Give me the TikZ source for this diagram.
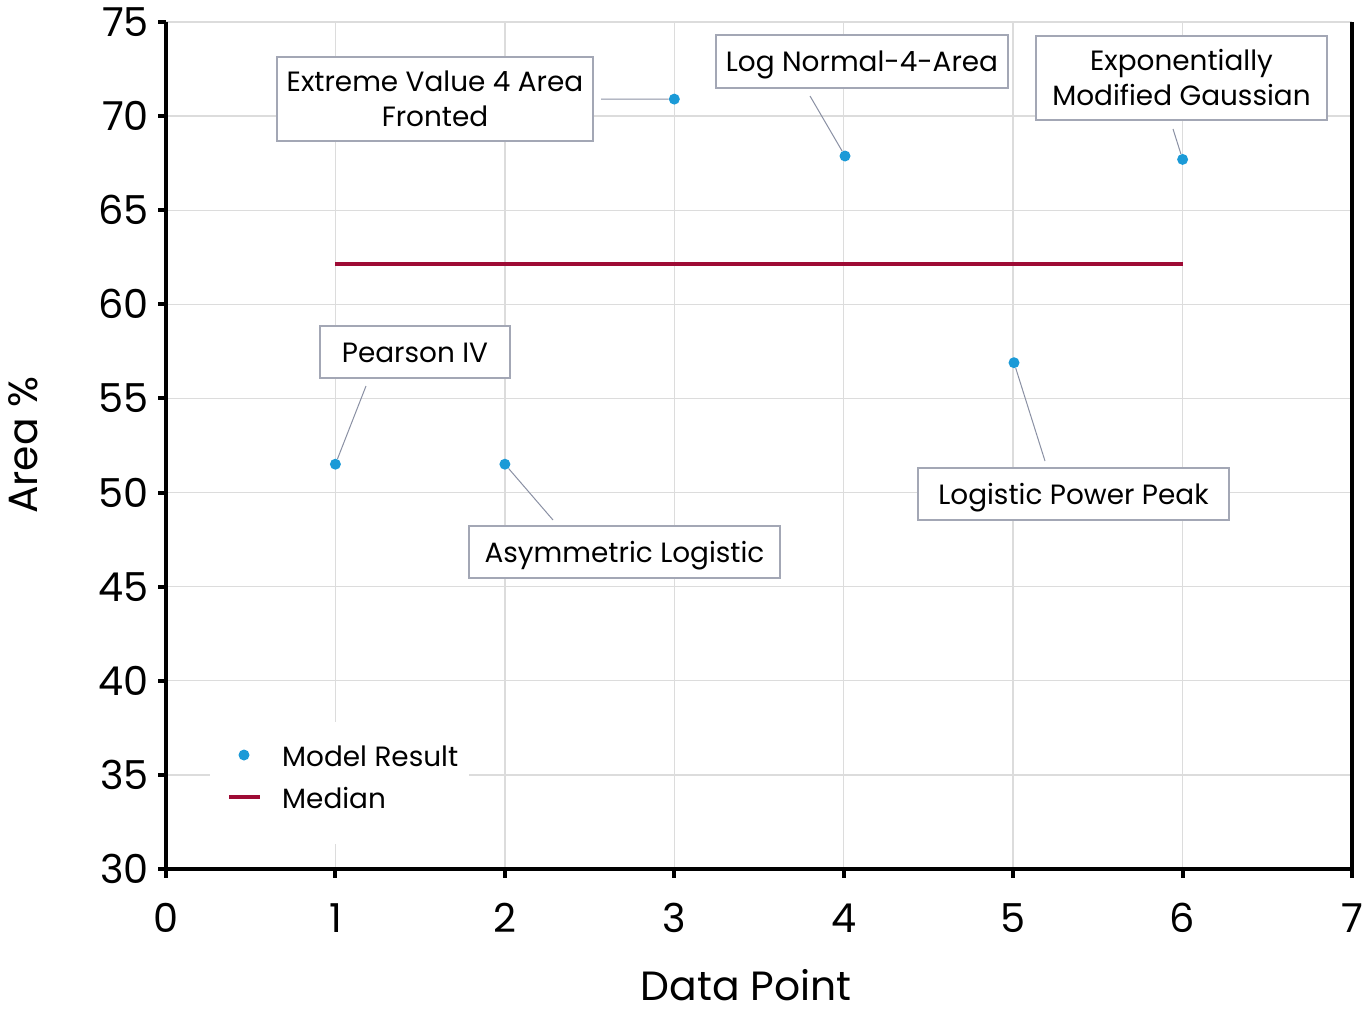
\documentclass[tikz,border=0pt]{standalone}
\usepackage{fontspec}
\setmainfont{Poppins}
\definecolor{ptblue}{HTML}{1B9AD7}
\definecolor{medred}{HTML}{9E0B35}
\definecolor{gridc}{HTML}{DCDCDC}
\definecolor{boxc}{HTML}{A3A7B5}
\definecolor{leadc}{HTML}{8A90A3}
\tikzset{
  gridline/.style={draw=gridc, line width=1.4bp},
  axisline/.style={draw=black, line width=4bp},
  ticklab/.style={font=\fontsize{40}{48}\selectfont, inner sep=0pt},
  labbox/.style={draw=boxc, line width=1.1bp, fill=white, align=center, inner sep=0pt,
    font=\fontsize{28}{35}\selectfont, text height=20bp, text depth=0bp},
  twoline/.style={text height=55bp, text depth=0bp},
  leader/.style={draw=leadc, line width=1bp},
  datapt/.style={circle, fill=ptblue, inner sep=0pt, minimum size=11bp},
  legtext/.style={font=\fontsize{28}{34}\selectfont, inner sep=0pt},
  titlelab/.style={font=\fontsize{41}{48}\selectfont, inner sep=0pt}
}
\begin{document}
\begin{tikzpicture}[x=1bp,y=-1bp]
\useasboundingbox (0,0) rectangle (1365,1014);
% grid
\foreach \v in {35,40,...,75}
  \draw[gridline] (166,{869-(\v-30)*18.822}) -- (1352,{869-(\v-30)*18.822});
\foreach \u in {1,...,6}
  \draw[gridline] ({166+\u*169.43},22) -- ({166+\u*169.43},869);
% legend background
\fill[white] (210,722) rectangle (469,844);
% axes
\draw[axisline] (166,22) -- (166,869) -- (1352,869) -- (1352,22);
\foreach \v in {30,35,...,75} {
  \draw[axisline] (158,{869-(\v-30)*18.822}) -- (166,{869-(\v-30)*18.822});
  \node[ticklab, anchor=base east] (yl\v) at (149,{869-(\v-30)*18.822+14.5}) {\v};
}
\foreach \u in {0,...,7} {
  \draw[axisline] ({166+\u*169.43},869) -- ({166+\u*169.43},878);
  \node[ticklab, anchor=base] (xl\u) at ({166+\u*169.43},932) {\u};
}
% axis titles
\node[titlelab, anchor=base] (xtitle) at (746,1000) {Data Point};
\node[titlelab, anchor=base, rotate=90] (ytitle) at (37,445) {Area \%};
% median
\coordinate (m1) at (335.4,263.9);
\coordinate (m6) at (1182.6,263.9);
\draw[medred, line width=3.5bp] (m1) -- (m6);
% label boxes
\node[labbox, twoline, minimum width=316bp, minimum height=84bp] (ev) at (435,99) {Extreme Value 4 Area\\Fronted};
\node[labbox, minimum width=292bp, minimum height=53bp] (ln) at (862,61.5) {Log Normal-4-Area};
\node[labbox, twoline, minimum width=291bp, minimum height=84bp] (emg) at (1181.5,78) {Exponentially\\Modified Gaussian};
\node[labbox, minimum width=190bp, minimum height=52bp] (piv) at (415,352) {Pearson IV};
\node[labbox, minimum width=311bp, minimum height=52bp] (al) at (624.5,552) {Asymmetric Logistic};
\node[labbox, minimum width=311bp, minimum height=52bp] (lpp) at (1073.5,494) {Logistic Power Peak};
% leader ends
\coordinate (evl) at (601,99);
\coordinate (lnl) at (810,96);
\coordinate (emgl) at (1173,129);
\coordinate (pivl) at (366,386);
\coordinate (all) at (553,520);
\coordinate (lppl) at (1045,461);
% data points
\node[datapt] (p1) at (335.4,464.2) {};
\node[datapt] (p2) at (504.9,464.2) {};
\node[datapt] (p3) at (674.3,99.1) {};
\node[datapt] (p4) at (845,156) {};
\node[datapt] (p5) at (1014,362.7) {};
\node[datapt] (p6) at (1182.6,159.4) {};
% leaders
\draw[leader] (evl) -- (p3);
\draw[leader] (lnl) -- (p4);
\draw[leader] (emgl) -- (p6);
\draw[leader] (pivl) -- (p1);
\draw[leader] (p2) -- (all);
\draw[leader] (p5) -- (lppl);
% legend
\node[datapt] (legpt) at (244,755) {};
\coordinate (legl1) at (229,797);
\coordinate (legl2) at (260,797);
\draw[medred, line width=3.5bp] (legl1) -- (legl2);
\node[legtext, anchor=base west] (legt1) at (282,766) {Model Result};
\node[legtext, anchor=base west] (legt2) at (282,808) {Median};
\end{tikzpicture}
\end{document}
